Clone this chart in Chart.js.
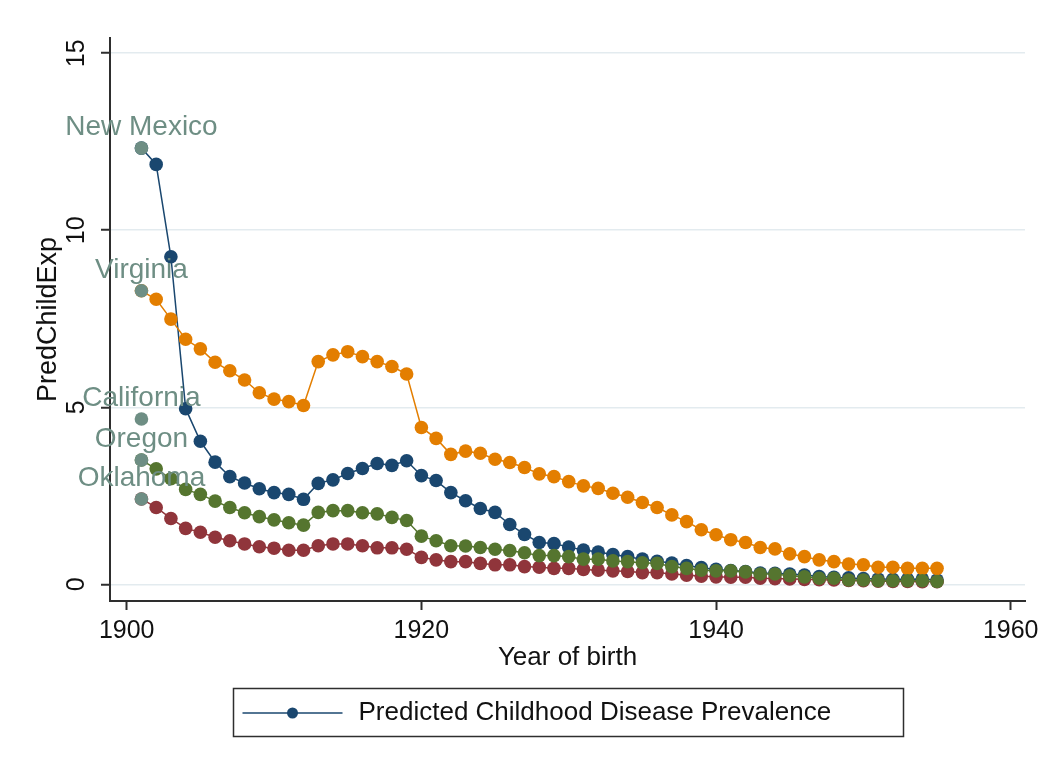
<!DOCTYPE html>
<html>
<head>
<meta charset="utf-8">
<title>Predicted Childhood Disease Prevalence</title>
<script src="https://cdn.jsdelivr.net/npm/chart.js@4.4.1/dist/chart.umd.min.js"></script>
<style>
  html, body { margin: 0; padding: 0; background: #ffffff; }
  #wrap { width: 1045px; height: 768px; }
</style>
</head>
<body>
<div id="wrap"><canvas id="chart" width="1045" height="768"></canvas></div>
<script>
// Birth cohorts
const years = [1901, 1902, 1903, 1904, 1905, 1906, 1907, 1908, 1909, 1910,
               1911, 1912, 1913, 1914, 1915, 1916, 1917, 1918, 1919, 1920,
               1921, 1922, 1923, 1924, 1925, 1926, 1927, 1928, 1929, 1930,
               1931, 1932, 1933, 1934, 1935, 1936, 1937, 1938, 1939, 1940,
               1941, 1942, 1943, 1944, 1945, 1946, 1947, 1948, 1949, 1950,
               1951, 1952, 1953, 1954, 1955];

// Predicted childhood disease prevalence by state
const newMexico = [12.32, 11.86, 9.25, 4.96, 4.04, 3.45, 3.04, 2.86, 2.70, 2.59,
                   2.54, 2.40, 2.85, 2.95, 3.13, 3.27, 3.41, 3.36, 3.49, 3.07,
                   2.93, 2.59, 2.36, 2.14, 2.03, 1.69, 1.41, 1.18, 1.15, 1.05,
                   0.97, 0.91, 0.84, 0.78, 0.71, 0.65, 0.60, 0.53, 0.47, 0.42,
                   0.39, 0.36, 0.32, 0.31, 0.29, 0.26, 0.22, 0.20, 0.18, 0.16,
                   0.15, 0.14, 0.14, 0.15, 0.12];

const virginia = [8.29, 8.05, 7.49, 6.92, 6.65, 6.27, 6.03, 5.77, 5.41, 5.23,
                  5.16, 5.05, 6.29, 6.48, 6.57, 6.43, 6.29, 6.15, 5.94, 4.43,
                  4.12, 3.67, 3.76, 3.70, 3.53, 3.44, 3.30, 3.12, 3.04, 2.90,
                  2.78, 2.71, 2.57, 2.46, 2.31, 2.17, 1.96, 1.77, 1.54, 1.40,
                  1.26, 1.18, 1.04, 1.00, 0.86, 0.78, 0.69, 0.64, 0.57, 0.55,
                  0.48, 0.48, 0.45, 0.45, 0.45];

const oregon = [3.51, 3.26, 2.98, 2.68, 2.54, 2.35, 2.17, 2.02, 1.91, 1.82,
                1.74, 1.67, 2.03, 2.08, 2.08, 2.02, 1.99, 1.89, 1.80, 1.36,
                1.23, 1.09, 1.08, 1.04, 0.99, 0.95, 0.89, 0.81, 0.81, 0.78,
                0.71, 0.71, 0.66, 0.64, 0.61, 0.59, 0.50, 0.45, 0.40, 0.38,
                0.38, 0.35, 0.29, 0.29, 0.24, 0.21, 0.17, 0.17, 0.12, 0.12,
                0.10, 0.10, 0.10, 0.10, 0.08];

const oklahoma = [2.41, 2.17, 1.86, 1.58, 1.47, 1.33, 1.23, 1.14, 1.06, 1.02,
                  0.96, 0.96, 1.09, 1.14, 1.14, 1.09, 1.03, 1.03, 0.99, 0.76,
                  0.69, 0.64, 0.64, 0.59, 0.55, 0.55, 0.50, 0.48, 0.45, 0.45,
                  0.42, 0.40, 0.38, 0.36, 0.33, 0.33, 0.29, 0.26, 0.23, 0.21,
                  0.20, 0.20, 0.17, 0.16, 0.15, 0.14, 0.13, 0.12, 0.11, 0.10,
                  0.09, 0.08, 0.08, 0.07, 0.07];

// Labelled first-cohort points
const stateNames = ['New Mexico', 'Virginia', 'California', 'Oregon', 'Oklahoma'];
const stateFirstYear = [1901, 1901, 1901, 1901, 1901];
const stateFirstValue = [12.32, 8.29, 4.67, 3.51, 2.41];

// Axis ticks and texts
const xTicks = [1900, 1920, 1940, 1960];
const yTicks = [0, 5, 10, 15];
const xTitle = 'Year of birth';
const yTitle = 'PredChildExp';
const legendText = 'Predicted Childhood Disease Prevalence';

const FONT = '"Liberation Sans", Arial, Helvetica, sans-serif';
const NAVY = '#1a476f', MAROON = '#90353b', GREEN = '#55752f', ORANGE = '#e37e00', TEAL = '#6e8e84';
const INK = '#111111', AXIS = '#2e2e2e', GRID = '#e3ebef';

const toPoints = (xs, ys) => xs.map((x, i) => ({ x: x, y: ys[i] }));

function series(label, values, color, order, inLegend) {
  return {
    label: label,
    data: toPoints(years, values),
    borderColor: color,
    backgroundColor: color,
    borderWidth: 1.5,
    pointRadius: 6.8,
    pointBorderWidth: 0,
    pointBackgroundColor: color,
    tension: 0,
    order: order,
    showInLegend: inLegend
  };
}

// State names written above the first-cohort markers
const stateLabelPlugin = {
  id: 'stateLabels',
  afterDatasetsDraw(chart) {
    const meta = chart.getDatasetMeta(0);
    const ctx = chart.ctx;
    ctx.save();
    ctx.font = '28px ' + FONT;
    ctx.fillStyle = TEAL;
    ctx.textAlign = 'center';
    ctx.textBaseline = 'middle';
    meta.data.forEach((pt, i) => ctx.fillText(stateNames[i], pt.x, pt.y - 21));
    ctx.restore();
  }
};

// Framed legend under the plot: line sample with marker, then the series name
const framedLegendPlugin = {
  id: 'framedLegend',
  afterDraw(chart) {
    const ds = chart.data.datasets.find(d => d.showInLegend);
    const ctx = chart.ctx;
    const area = chart.chartArea;
    const cx = (area.left + area.right) / 2;
    const boxW = 670, boxH = 48, boxTop = 688;
    const left = Math.round(cx - boxW / 2) + 0.5;
    const midY = boxTop + boxH / 2 + 1;
    ctx.save();
    ctx.strokeStyle = AXIS;
    ctx.lineWidth = 1.5;
    ctx.strokeRect(left, boxTop + 0.5, boxW, boxH);

    ctx.strokeStyle = ds.borderColor;
    ctx.lineWidth = 1.5;
    ctx.beginPath();
    ctx.moveTo(left + 9, midY);
    ctx.lineTo(left + 109, midY);
    ctx.stroke();

    ctx.fillStyle = ds.borderColor;
    ctx.beginPath();
    ctx.arc(left + 59, midY, 5.5, 0, Math.PI * 2);
    ctx.fill();

    ctx.font = '26px ' + FONT;
    ctx.fillStyle = INK;
    ctx.textAlign = 'left';
    ctx.textBaseline = 'middle';
    ctx.fillText(ds.label, left + 125, midY);
    ctx.restore();
  }
};

new Chart(document.getElementById('chart'), {
  type: 'line',
  data: {
    datasets: [
      {
        label: 'States',
        data: toPoints(stateFirstYear, stateFirstValue),
        showLine: false,
        pointRadius: 6.8,
        pointBorderWidth: 0,
        pointBackgroundColor: TEAL,
        backgroundColor: TEAL,
        borderColor: TEAL,
        order: 0,
        showInLegend: false
      },
      series('Oregon', oregon, GREEN, 1, false),
      series('Virginia', virginia, ORANGE, 2, false),
      series('Oklahoma', oklahoma, MAROON, 3, false),
      series(legendText, newMexico, NAVY, 4, true)
    ]
  },
  options: {
    responsive: false,
    animation: false,
    events: [],
    devicePixelRatio: 1,
    layout: { padding: { left: 32, top: 38, right: 20, bottom: 95 } },
    plugins: {
      legend: { display: false },
      tooltip: { enabled: false },
      title: { display: false }
    },
    scales: {
      x: {
        type: 'linear',
        min: 1898.866,
        max: 1960.97,
        afterBuildTicks: s => { s.ticks = xTicks.map(v => ({ value: v })); },
        afterFit: s => { s.height = 72; },
        grid: {
          drawOnChartArea: false,
          drawTicks: true,
          tickLength: 9,
          tickColor: AXIS,
          tickWidth: 2
        },
        border: { display: true, color: AXIS, width: 2 },
        ticks: {
          autoSkip: false,
          maxRotation: 0,
          padding: 6,
          color: INK,
          font: { family: FONT, size: 25 },
          callback: v => String(v)
        },
        title: {
          display: true,
          text: xTitle,
          color: INK,
          padding: 0,
          font: { family: FONT, size: 26 }
        }
      },
      y: {
        type: 'linear',
        min: -0.472,
        max: 15.43,
        afterBuildTicks: s => { s.ticks = yTicks.map(v => ({ value: v })); },
        afterFit: s => { s.width = 78; },
        grid: {
          drawOnChartArea: true,
          color: GRID,
          lineWidth: 1.5,
          drawTicks: true,
          tickLength: 9,
          tickColor: AXIS,
          tickWidth: 2
        },
        border: { display: true, color: AXIS, width: 2 },
        ticks: {
          autoSkip: false,
          minRotation: 90,
          maxRotation: 90,
          crossAlign: 'center',
          padding: 10,
          color: INK,
          font: { family: FONT, size: 25 },
          callback: v => String(v)
        },
        title: {
          display: true,
          text: yTitle,
          color: INK,
          padding: 0,
          font: { family: FONT, size: 27 }
        }
      }
    }
  },
  plugins: [stateLabelPlugin, framedLegendPlugin]
});
</script>
</body>
</html>
